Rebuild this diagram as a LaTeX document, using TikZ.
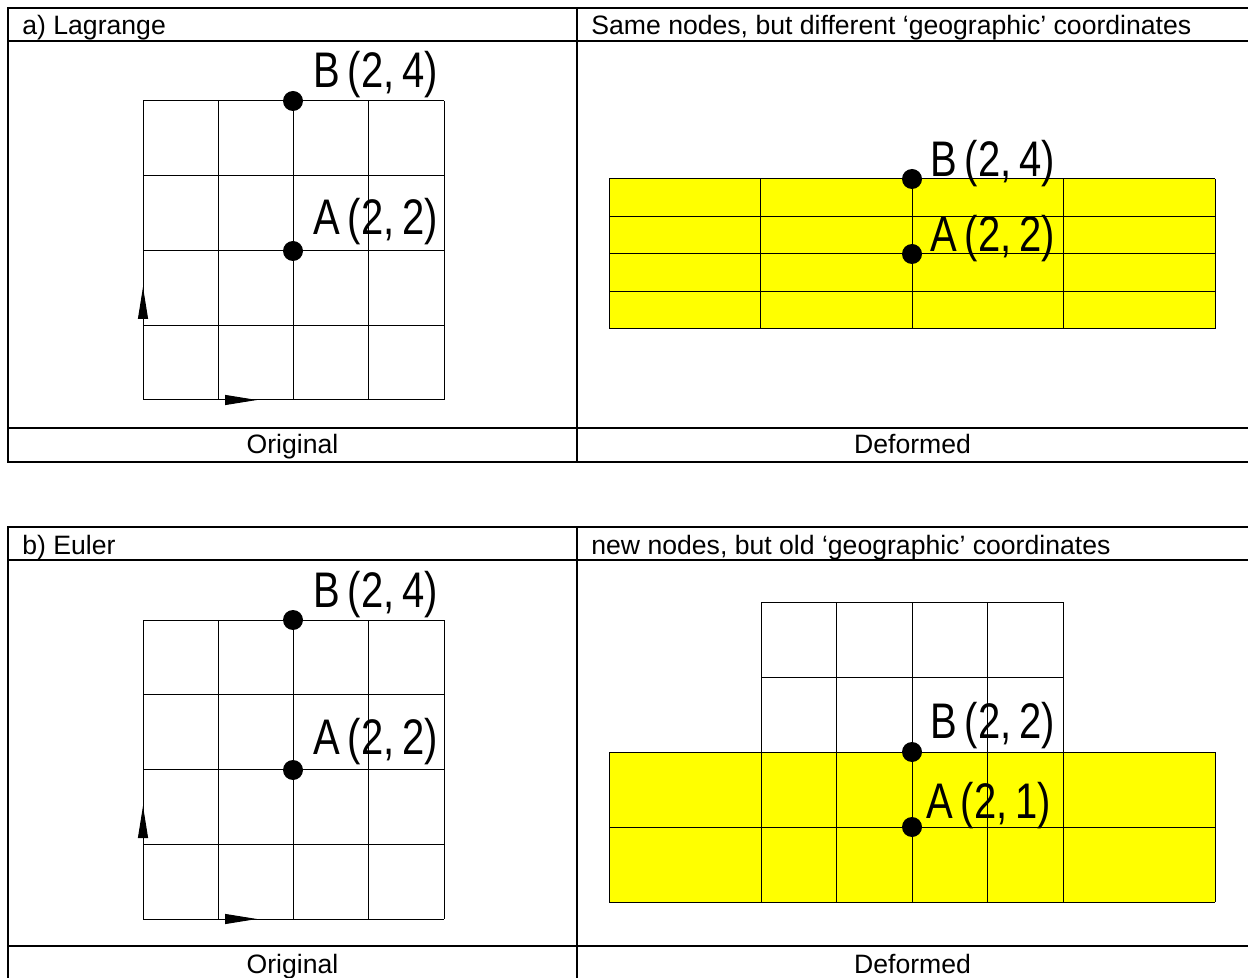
\documentclass[tikz,border=0pt]{standalone}
\usepackage{fontspec}
\setmainfont{Liberation Sans}
\usetikzlibrary{arrows.meta}
\definecolor{DeformYellow}{HTML}{FFFF00}
\newcommand{\labelfont}{\fontsize{25}{30}\selectfont\spaceskip=0.2em\relax}

\tikzset{
  tablerule/.style={line width=1.4pt},
  cellrule/.style={line width=0.7pt},
  gridline/.style={line width=0.5pt},
  axisarrow/.style={line width=0.5pt,-{Triangle[length=16pt,width=5pt]}},
  nodedot/.style={circle,fill=black,inner sep=0pt,minimum size=10pt},
  coordlabel/.style={anchor=base west,inner sep=0pt,xscale=0.8,font=\labelfont},
  headtext/.style={anchor=base west,inner sep=0pt,font=\fontsize{13.3}{15}\selectfont},
  foottext/.style={anchor=base,inner sep=0pt,font=\fontsize{13.3}{15}\selectfont},
}

\begin{document}
\begin{tikzpicture}[x=0.5pt,y=-0.5pt]

% 1 unit = 1 px of the page, y pointing down
\useasboundingbox (0,0) rectangle (1248,978);
\clip (0,0) rectangle (1248,978);

\def\tabL{8}
\def\tabM{577}
\def\tabR{1252}

% ---- TABLE FRAMES ----
\foreach \ty/\tb in {8/462, 527/980} {
  \draw[tablerule] (\tabR,\ty) -- (\tabL,\ty) -- (\tabL,\tb) -- (\tabR,\tb);
  \draw[tablerule] (\tabL,\ty+33) -- (\tabR,\ty+33);
  \draw[tablerule] (\tabL,\tb-34) -- (\tabR,\tb-34);
  \draw[cellrule] (\tabM,\ty) -- (\tabM,\tb);
}

% Headers and footers
\node[headtext] (headLag) at (22,35) {a) Lagrange};
\node[headtext] (headLagDef) at (591,35) {Same nodes, but different ‘geographic’ coordinates};
\node[headtext] (headEul) at (22,554) {b) Euler};
\node[headtext] (headEulDef) at (591,554) {new nodes, but old ‘geographic’ coordinates};
\node[foottext] (footLag) at (292.5,454) {Original};
\node[foottext] (footLagDef) at (912.5,454) {Deformed};
\node[foottext] (footEul) at (292.5,973) {Original};
\node[foottext] (footEulDef) at (912.5,973) {Deformed};

% ---- ORIGINAL MESH (same in both tables) ----
\foreach \dy/\tag in {0/lag, 519/eul} {
  \begin{scope}[shift={(0,\dy)}]
    \foreach \i in {0,...,4} {
      \draw[gridline] (143+75.25*\i,101) -- (143+75.25*\i,400);
      \draw[gridline] (143,101+74.75*\i) -- (444,101+74.75*\i);
    }
    % local axes
    \coordinate (orig\tag) at (143,400);
    \coordinate (yaxis\tag) at (143,287);
    \coordinate (xaxis\tag) at (257,400);
    \draw[axisarrow] (orig\tag) -- (yaxis\tag);
    \draw[axisarrow] (orig\tag) -- (xaxis\tag);
    % nodes A and B
    \node[nodedot] (B\tag) at (293,101) {};
    \node[nodedot] (A\tag) at (293,251) {};
    \node[coordlabel] (Blabel\tag) at (313,88) {B (2, 4)};
    \node[coordlabel] (Alabel\tag) at (313,235) {A (2, 2)};
  \end{scope}
}

% ---- LAGRANGE: DEFORMED MESH ----
\fill[DeformYellow] (609,179) rectangle (1215,329);
\foreach \x in {609,760.5,912,1063.5,1215}
  \draw[gridline] (\x,179) -- (\x,329);
\foreach \y in {179,216.5,254,291.5,329}
  \draw[gridline] (609,\y) -- (1215,\y);
\node[nodedot] (BlagDef) at (912,179) {};
\node[nodedot] (AlagDef) at (912,254) {};
\node[coordlabel] (BlabelLagDef) at (930,177) {B (2, 4)};
\node[coordlabel] (AlabelLagDef) at (930,252) {A (2, 2)};

% ---- EULER: OLD GRID OVER DEFORMED BODY ----
\fill[DeformYellow] (609,752) rectangle (1215,902);
\foreach \x in {761,836.75,912,987.75,1063.5}
  \draw[gridline] (\x,602) -- (\x,902);
\foreach \y in {602,677}
  \draw[gridline] (761,\y) -- (1063.5,\y);
\foreach \x in {609,1215}
  \draw[gridline] (\x,752) -- (\x,902);
\foreach \y in {752,827,902}
  \draw[gridline] (609,\y) -- (1215,\y);
\node[nodedot] (BeulDef) at (912,752) {};
\node[nodedot] (AeulDef) at (912,827) {};
\node[coordlabel] (BlabelEulDef) at (930,738) {B (2, 2)};
\node[coordlabel] (AlabelEulDef) at (926,818) {A (2, 1)};

\end{tikzpicture}
\end{document}
